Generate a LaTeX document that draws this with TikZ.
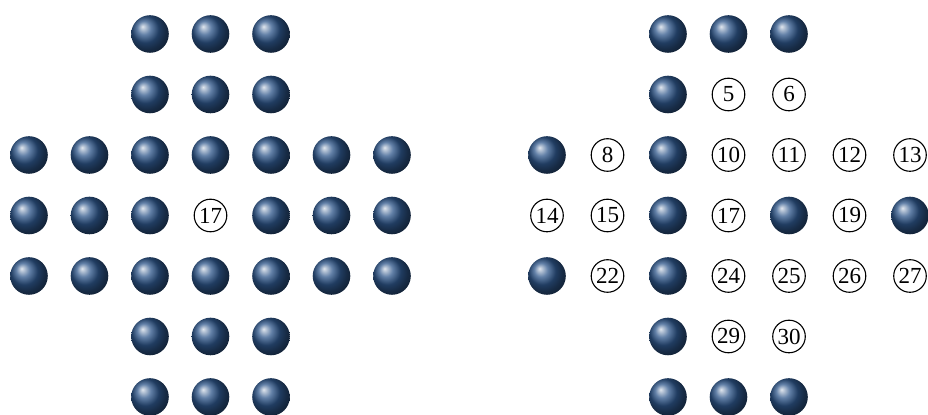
\documentclass[tikz,border=0pt]{standalone}
\usepackage{fontspec}
\setmainfont{Liberation Serif}
\usepackage{xcolor}
\definecolor{pegblue}{RGB}{46,86,138}
\usepackage{tikz}
\usetikzlibrary{positioning}

\tikzset{
  pegball/.style={circle, minimum size=18.8pt, inner sep=0pt,
                  shading=ball, ball color=pegblue},
  peghole/.style={circle, draw, line width=0.55pt, minimum size=16.3pt,
                  inner sep=0pt, font=\fontsize{11.5}{11.5}\selectfont},
}

\begin{document}
\begin{tikzpicture}[x=30.25pt, y=-30.25pt]
\useasboundingbox (-14.5pt,17pt) rectangle (449.5pt,-190.5pt);

%% Left board: all filled except the centre
\foreach \n/\c/\r in {1/2/0,2/3/0,3/4/0,4/2/1,5/3/1,6/4/1,
    7/0/2,8/1/2,9/2/2,10/3/2,11/4/2,12/5/2,13/6/2,
    14/0/3,15/1/3,16/2/3,17/3/3,18/4/3,19/5/3,20/6/3,
    21/0/4,22/1/4,23/2/4,24/3/4,25/4/4,26/5/4,27/6/4,
    28/2/5,29/3/5,30/4/5,31/2/6,32/3/6,33/4/6}{
  \ifnum\n=17
    \node[peghole] (L\n) at (\c,\r) {\n};
  \else
    \node[pegball] (L\n) at (\c,\r) {};
  \fi
}

%% Right board: pegs left
\foreach \n/\c/\r in {1/2/0,2/3/0,3/4/0,4/2/1,7/0/2,9/2/2,
    16/2/3,18/4/3,20/6/3,21/0/4,23/2/4,28/2/5,31/2/6,32/3/6,33/4/6}
  \node[pegball] (R\n) at (\c+8.562,\r) {};

%% Right board: empty holes
\foreach \n/\c/\r in {5/3/1,6/4/1,8/1/2,10/3/2,11/4/2,12/5/2,13/6/2,
    14/0/3,15/1/3,17/3/3,19/5/3,22/1/4,24/3/4,25/4/4,26/5/4,27/6/4,
    29/3/5,30/4/5}
  \node[peghole] (R\n) at (\c+8.562,\r) {\n};
\end{tikzpicture}
\end{document}
